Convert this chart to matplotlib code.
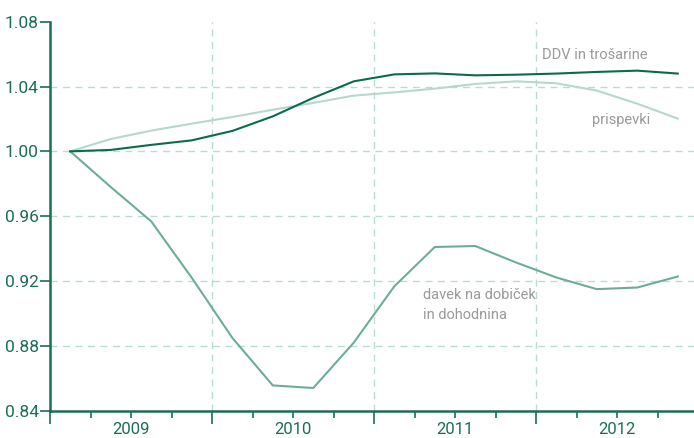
import matplotlib
matplotlib.use("Agg")
import matplotlib.pyplot as plt
import numpy as np

plt.rcParams['font.family'] = ['Liberation Sans Narrow', 'Roboto', 'DejaVu Sans']

years = ["2009", "2010", "2011", "2012"]
quarters = list(range(16))  # 2009Q1 .. 2012Q4

ddv = [1.000, 1.0009, 1.004, 1.0068, 1.0126, 1.0216, 1.033, 1.0432,
       1.0475, 1.0481, 1.0469, 1.0473, 1.048, 1.049, 1.0498, 1.048]
prispevki = [1.000, 1.0076, 1.0128, 1.0171, 1.0212, 1.0257, 1.0299, 1.0344,
             1.0364, 1.0387, 1.0416, 1.0432, 1.042, 1.0375, 1.0294, 1.0202]
davek = [1.000, 0.978, 0.9568, 0.922, 0.885, 0.8556, 0.854, 0.882,
         0.9167, 0.941, 0.9416, 0.9315, 0.9222, 0.915, 0.916, 0.9228]

yticks = [0.84, 0.88, 0.92, 0.96, 1.00, 1.04, 1.08]

dark = '#0a6b4f'
mid = '#6fac98'
light = '#b7d8cc'
axis_col = '#1b6e56'
grid_col = '#b9ddd1'
label_col = '#9a9a9a'

fig = plt.figure(figsize=(6.94, 4.38), dpi=100)
ax = fig.add_axes([50/694, (438-410.7)/438, 644/694, (410.7-21.7)/438])

ax.set_xlim(-0.5, 15.4)
ax.set_ylim(0.84, 1.08)

# grid
for y in [0.88, 0.92, 0.96, 1.00, 1.04]:
    ax.axhline(y, color=grid_col, lw=1, dashes=(5, 4), zorder=1)
for x in [3.5, 7.5, 11.5]:
    ax.axvline(x, color=grid_col, lw=1, dashes=(5, 4), zorder=1)

ax.plot(quarters, prispevki, color=light, lw=1.5, zorder=3)
ax.plot(quarters, davek, color=mid, lw=1.5, zorder=3)
ax.plot(quarters, ddv, color=dark, lw=1.5, zorder=4)

for s in ['top', 'right']:
    ax.spines[s].set_visible(False)
for s in ['left', 'bottom']:
    ax.spines[s].set_color(axis_col)
    ax.spines[s].set_linewidth(1.8)

ax.set_yticks(yticks)
ax.set_yticklabels([f"{v:.2f}" for v in yticks])
ax.tick_params(axis='y', colors=axis_col, labelcolor=axis_col, labelsize=12.5,
               length=7, width=1.2, pad=1)

# x ticks: quarter boundaries
ax.set_xticks([-0.5, 3.5, 7.5, 11.5])
ax.set_xticks([0.5, 1.5, 2.5, 4.5, 5.5, 6.5, 8.5, 9.5, 10.5, 12.5, 13.5, 14.5], minor=True)
ax.set_xticklabels([])
ax.tick_params(axis='x', which='major', colors=axis_col, length=9, width=1.2)
ax.tick_params(axis='x', which='minor', colors=axis_col, length=5, width=1.2)

for i, yr in enumerate(years):
    ax.text(1.5 + 4*i, -0.049, yr, transform=ax.get_xaxis_transform(),
            ha='center', va='center', color=axis_col, fontsize=12)

ax.text(11.65, 1.0597, "DDV in trošarine", color=label_col, fontsize=10.5,
        ha='left', va='center')
ax.text(14.31, 1.0191, "prispevki", color=label_col, fontsize=10.5,
        ha='right', va='center')
ax.text(8.7, 0.905, "davek na dobiček\nin dohodnina", color=label_col,
        fontsize=10.5, ha='left', va='center', linespacing=1.55)

fig.savefig("out.png", dpi=100)
